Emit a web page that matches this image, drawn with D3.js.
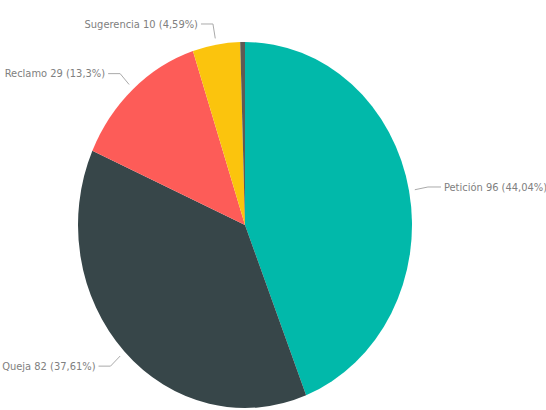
<!DOCTYPE html>
<html><head><meta charset="utf-8">
<script src="https://cdn.jsdelivr.net/npm/d3@7"></script>
<style>html,body{margin:0;padding:0;background:#fff;}</style>
</head><body>
<svg id="chart" width="546" height="410"></svg>
<script>
const categories = ["Petición", "Queja", "Reclamo", "Sugerencia", "Otro"];
const values = [96, 82, 29, 10, 1];
const showLabel = [true, true, true, true, false];
const palette = ["#01B9AA", "#374649", "#FD5C58", "#FBC40D", "#5F5A55"];

const W = 546, H = 410;
const cx = 245, cy = 225, rx = 167, ry = 183;
const svg = d3.select("#chart");

const data = categories.map((c, i) => ({ name: c, value: values[i], color: palette[i], show: showLabel[i] }));
const total = d3.sum(values);
const pie = d3.pie().value(d => d.value).sort(null);
const arcs = pie(data);
const arc = d3.arc().innerRadius(0).outerRadius(rx);

const g = svg.append("g").attr("transform", `translate(${cx},${cy}) scale(1,${ry / rx})`);
g.selectAll("path").data(arcs).join("path")
  .attr("d", arc).attr("fill", d => d.data.color);

function pct(v) {
  let s = d3.format(".2f")(v / total * 100);
  s = s.replace(/0+$/, "").replace(/\.$/, "");
  return s.replace(".", ",") + "%";
}
function edge(a, k) {
  return [cx + rx * k * Math.sin(a), cy - ry * k * Math.cos(a)];
}

const lab = svg.append("g");
arcs.filter(d => d.data.show).forEach(d => {
  const mid = (d.startAngle + d.endAngle) / 2;
  const p0 = edge(mid, 1.035);
  const p1 = edge(mid, 1.115);
  const right = Math.sin(mid) > 0;
  const p2 = [p1[0] + (right ? 13 : -12), p1[1]];
  lab.append("polyline")
    .attr("points", [p0, p1, p2].map(p => p.join(",")).join(" "))
    .attr("fill", "none").attr("stroke", "#aaa").attr("stroke-width", 1);
  lab.append("text")
    .attr("x", p2[0] + (right ? 3 : -3)).attr("y", p2[1])
    .attr("dy", "0.35em")
    .attr("text-anchor", right ? "start" : "end")
    .attr("font-family", "'DejaVu Sans Condensed', 'Liberation Sans', sans-serif")
    .attr("font-size", "11px").attr("fill", "#808080")
    .text(`${d.data.name} ${d.data.value} (${pct(d.data.value)})`);
});
</script>
</body></html>
